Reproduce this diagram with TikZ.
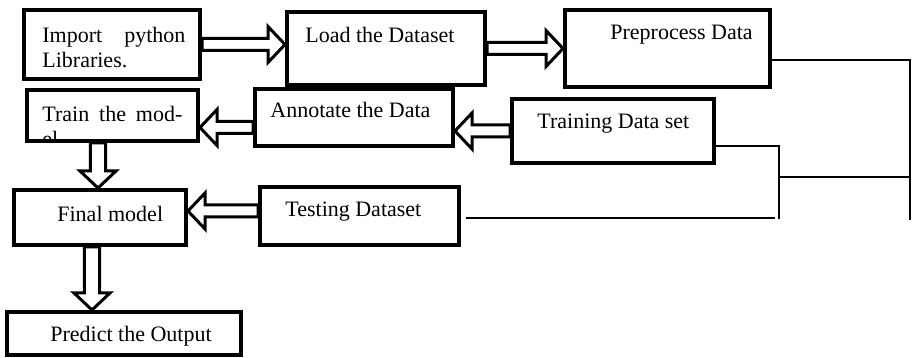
\documentclass[tikz,border=0pt]{standalone}
\usepackage{fontspec}
\setmainfont{Liberation Serif}
\usetikzlibrary{calc,backgrounds}

\tikzset{
  box/.style={draw, line width=2pt, inner sep=0pt},
  txt/.style={inner sep=0pt, font=\fontsize{11}{12.6}\selectfont},
  wire/.style={line width=0.55pt},
  blk/.style={draw, fill=white, line width=1.5pt, line join=miter,
    to path={
      ($(\tikztostart)!#1!90:(\tikztotarget)$)
      -- ($(\tikztotarget)!8.5pt!(\tikztostart)!#1!90:(\tikztotarget)$)
      -- ($(\tikztotarget)!8.5pt!(\tikztostart)!9pt!90:(\tikztotarget)$)
      -- (\tikztotarget)
      -- ($(\tikztotarget)!8.5pt!(\tikztostart)!9pt!-90:(\tikztotarget)$)
      -- ($(\tikztotarget)!8.5pt!(\tikztostart)!#1!-90:(\tikztotarget)$)
      -- ($(\tikztostart)!#1!-90:(\tikztotarget)$) -- cycle}},
  blk/.default=3pt
}

\begin{document}
\begin{tikzpicture}[x=0.5pt, y=-0.5pt]

    \useasboundingbox (0,0) rectangle (912,358);

    % Blocchi (riquadri a bordo spesso)
    \node[box, minimum width=88pt,    minimum height=34.5pt] (imp)   at (112,44.5)   {};
    \node[box, minimum width=99pt,    minimum height=36.5pt] (load)  at (386,48.5)   {};
    \node[box, minimum width=102.5pt, minimum height=38.5pt] (prep)  at (667.5,48.5) {};
    \node[box, minimum width=85.5pt,  minimum height=25.5pt] (train) at (112.5,115.5) {};
    \node[box, minimum width=99pt,    minimum height=28.5pt] (annot) at (354,117.5)  {};
    \node[box, minimum width=101pt,   minimum height=32pt]   (trset) at (613,131)    {};
    \node[box, minimum width=86pt,    minimum height=27.5pt] (final) at (100,217.5)  {};
    \node[box, minimum width=99.5pt,  minimum height=29pt]   (test)  at (359.5,216)  {};
    \node[box, minimum width=117pt,   minimum height=21.5pt] (pred)  at (124,333.5)  {};

    % Testi dei blocchi
    \node[txt, anchor=north west, text width=71.5pt, align=justify] (impt) at (42,27) {Import python Libraries.};
    \node[txt, anchor=base west] (loadt)   at (305,43)  {Load the Dataset};
    \node[txt, anchor=base west] (prept)   at (610,40)  {Preprocess Data};
    \node[txt, anchor=base west] (annott)  at (270,118) {Annotate the Data};
    \node[txt, anchor=base west] (trsett)  at (537,129) {Training Data set};
    \node[txt, anchor=base west] (finalt)  at (57,222)  {Final model};
    \node[txt, anchor=base west] (testt)   at (285,217) {Testing Dataset};
    \node[txt, anchor=base west] (predt)   at (50,342)  {Predict the Output};

    % Testo tagliato dal bordo inferiore
    \begin{scope}
        \clip (train.south west) rectangle (train.north east);
        \node[txt, anchor=north west, text width=70pt, align=justify] (traint) at (42,106) {Train the mod-\linebreak el};
    \end{scope}

    % Frecce vuote (sotto i riquadri)
    \coordinate (a2t) at ($(annot.west)+(0,10)$);
    \coordinate (t2f) at ($(train.south)+(-14.5,0)$);
    \coordinate (s2f) at ($(test.west)+(0,-5)$);
    \coordinate (f2p) at ($(final.south)+(-8,0)$);
    \begin{scope}[on background layer]
        \draw[blk] (imp.east) to (imp.east -| load.west);
        \draw[blk] (load.east) to (prep.west);
        \draw[blk] (a2t) to (a2t -| train.east);
        \draw[blk] (trset.west) to (trset.west -| annot.east);
        \draw[blk=3.8pt] (t2f) to (t2f |- final.north);
        \draw[blk] (s2f) to (s2f -| final.east);
        \draw[blk=3.8pt] (f2p) to (f2p |- pred.north);
    \end{scope}

    % Linee sottili a destra
    \coordinate (rc) at (910,60);
    \coordinate (rb) at (910,220);
    \coordinate (jt) at (779,146);
    \coordinate (jm) at (779,177);
    \coordinate (jb) at (779,219);
    \coordinate (te) at (775,218);
    \draw[wire] (rc -| prep.east) -- (rc) -- (rb);
    \draw[wire] (jt -| trset.east) -- (jt) -- (jb);
    \draw[wire] (jm) -- (jm -| rc);
    \draw[wire] (test.east |- te) ++(2.5pt,0) -- (te);

\end{tikzpicture}
\end{document}
